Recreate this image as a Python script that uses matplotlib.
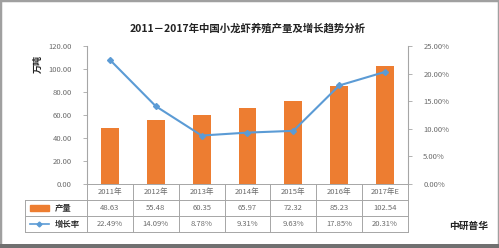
import matplotlib
matplotlib.use('Agg')
import matplotlib.pyplot as plt
import numpy as np
from matplotlib.patches import Rectangle

plt.rcParams['font.family'] = ['Noto Sans CJK SC', 'DejaVu Sans']

years = ['2011年', '2012年', '2013年', '2014年', '2015年', '2016年', '2017年E']
output = [48.63, 55.48, 60.35, 65.97, 72.32, 85.23, 102.54]
growth = [22.49, 14.09, 8.78, 9.31, 9.63, 17.85, 20.31]

bar_color = '#ED7D31'
line_color = '#5B9BD5'
txt = '#6b6b6b'
grid_c = '#a6a6a6'

W, H = 499, 248
fig = plt.figure(figsize=(W / 100, H / 100), dpi=100)
fig.patch.set_facecolor('white')

# frame around the picture
fig.add_artist(Rectangle((0, 0), 1, 1, transform=fig.transFigure, fill=False,
                         edgecolor='#a0a0a0', linewidth=2.5))
fig.add_artist(Rectangle((0, 0), 1, 4 / H, transform=fig.transFigure,
                         facecolor='#707070', edgecolor='none'))

ax = fig.add_axes([87 / W, (H - 184) / H, (408 - 87) / W, (184 - 46) / H])
x = np.arange(len(years))
ax.bar(x, output, width=0.39, color=bar_color, zorder=2)
ax.set_xlim(-0.5, len(years) - 0.5)
ax.set_ylim(0, 120)
ax.set_yticks(np.arange(0, 121, 20))
ax.set_yticklabels(['%.2f' % v for v in np.arange(0, 121, 20)])
ax.set_xticks([])

ax2 = ax.twinx()
ax2.plot(x, growth, color=line_color, linewidth=1.5, marker='D', markersize=3, zorder=3)
ax2.set_ylim(0, 25)
ax2.set_yticks(np.arange(0, 26, 5))
ax2.set_yticklabels(['%.2f%%' % v for v in np.arange(0, 26, 5)])

for a in (ax, ax2):
    a.spines['top'].set_visible(False)
    a.spines['left'].set_color(grid_c)
    a.spines['right'].set_color(grid_c)
    a.spines['bottom'].set_visible(False)
    a.tick_params(axis='y', colors=txt, labelsize=5.5, length=3, width=0.6,
                  color=grid_c, pad=8)
ax.spines['right'].set_visible(False)
ax2.spines['left'].set_visible(False)

# data table under the plot
row_h = 16 / 138.0
tr = ax.get_xaxis_transform()
left_x = -0.5 - (87 - 25) / 45.9
rows_y = [0, -row_h, -2 * row_h, -3 * row_h]
for i, yy in enumerate(rows_y):
    x0 = -0.5 if i == 0 else left_x
    ax.plot([x0, len(years) - 0.5], [yy, yy], color=grid_c, lw=0.7,
            transform=tr, clip_on=False)
for k in range(len(years) + 1):
    ax.plot([k - 0.5, k - 0.5], [0, rows_y[-1]], color=grid_c, lw=0.7,
            transform=tr, clip_on=False)
ax.plot([left_x, left_x], [rows_y[1], rows_y[-1]], color=grid_c, lw=0.7,
        transform=tr, clip_on=False)

for k in range(len(years)):
    ax.text(k, -0.5 * row_h, years[k], transform=tr, ha='center', va='center',
            fontsize=5.5, color=txt)
    ax.text(k, -1.5 * row_h, '%.2f' % output[k], transform=tr, ha='center',
            va='center', fontsize=5.5, color=txt)
    ax.text(k, -2.5 * row_h, '%.2f%%' % growth[k], transform=tr, ha='center',
            va='center', fontsize=5.5, color=txt)

# legend cells
ax.add_patch(Rectangle((left_x + 0.1, -1.5 * row_h - 0.025), 0.42, 0.05,
                       transform=tr, color=bar_color, clip_on=False))
ax.text(left_x + 0.65, -1.5 * row_h, '产量', transform=tr, va='center',
        fontsize=6, color='#333333', fontweight='bold')
ax.plot([left_x + 0.1, left_x + 0.52], [-2.5 * row_h] * 2, color=line_color,
        lw=1.2, transform=tr, clip_on=False)
ax.plot([left_x + 0.31], [-2.5 * row_h], marker='D', markersize=2.5,
        color=line_color, transform=tr, clip_on=False)
ax.text(left_x + 0.65, -2.5 * row_h, '增长率', transform=tr, va='center',
        fontsize=6, color='#333333', fontweight='bold')

fig.text(248 / W, 1 - 28 / H, '2011－2017年中国小龙虾养殖产量及增长趋势分析',
         ha='center', va='center', fontsize=7.5, fontweight='bold', color='#222222')
fig.text(38 / W, 1 - 64 / H, '万吨', rotation=90, ha='center', va='center',
         fontsize=6.5, fontweight='bold', color='#222222')
fig.text(488 / W, 1 - 226 / H, '中研普华', ha='right', va='center',
         fontsize=7, fontweight='bold', color='#222222')

fig.savefig('out.png', dpi=100)
